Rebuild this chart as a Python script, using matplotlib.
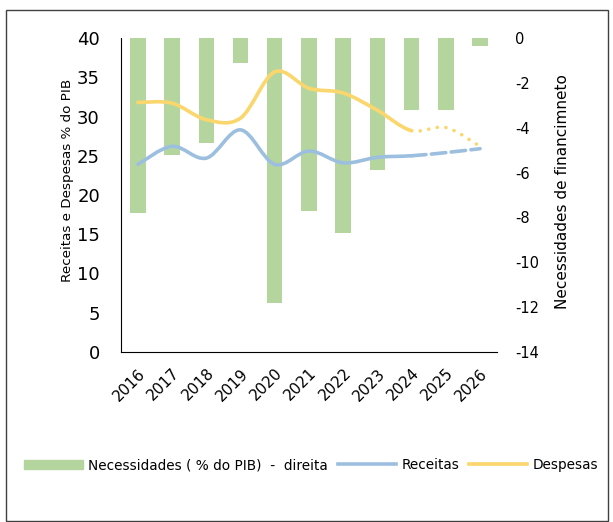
import matplotlib.pyplot as plt
import numpy as np
from matplotlib.path import Path
from matplotlib.patches import PathPatch, Patch, Rectangle
from matplotlib.lines import Line2D

plt.rcParams['axes.unicode_minus'] = False

anos = ['2016', '2017', '2018', '2019', '2020', '2021', '2022', '2023', '2024', '2025', '2026']
necessidades = [-7.8, -5.2, -4.7, -1.1, -11.8, -7.7, -8.7, -5.9, -3.2, -3.2, -0.35]
receitas = [23.9, 26.2, 24.7, 28.3, 23.9, 25.6, 24.1, 24.8, 25.0, 25.4, 25.9]
despesas = [31.8, 31.7, 29.6, 29.8, 35.7, 33.6, 33.0, 30.8, 28.2, 28.6, 26.2]
ultimo_real = 8  # 2024: a partir daqui sao previsoes

cor_barra = '#B4D69E'
cor_receitas = '#9DBFDF'
cor_despesas = '#FBD66C'


def curva_suave(x, y, i0, i1):
    # linha suavizada (bezier cubica) entre os pontos i0..i1
    pts = np.column_stack([x, y]).astype(float)
    n = len(pts)
    verts = [pts[i0]]
    codes = [Path.MOVETO]
    for i in range(i0, i1):
        p_ant = pts[max(i - 1, 0)]
        p_seg = pts[min(i + 2, n - 1)]
        c1 = pts[i] + (pts[i + 1] - p_ant) / 6
        c2 = pts[i + 1] - (p_seg - pts[i]) / 6
        verts += [c1, c2, pts[i + 1]]
        codes += [Path.CURVE4] * 3
    return Path(verts, codes)


fig = plt.figure(figsize=(6.13, 5.22), dpi=100)
ax = fig.add_axes([0.197, 0.326, 0.614, 0.601])
ax2 = ax.twinx()

x = np.arange(len(anos))

# barras no eixo da direita
ax.bar(x, necessidades, width=0.45, color=cor_barra, zorder=1)
ax.set_ylim(-14, 0)
ax.set_yticks(np.arange(-14, 1, 2))
ax.yaxis.tick_right()
ax.yaxis.set_label_position('right')
ax.set_ylabel('Necessidades de financimneto', fontsize=11)
ax.yaxis.set_label_coords(1.155, 0.51)
ax.tick_params(axis='y', length=0, pad=13, labelsize=10.5)

ax.set_xlim(-0.5, len(anos) - 0.5)
ax.set_xticks(x)
ax.set_xticklabels(anos, rotation=45, ha='right', va='top', rotation_mode='anchor')
ax.tick_params(axis='x', length=0, pad=10, labelsize=11)

# linhas no eixo da esquerda
ax2.set_ylim(0, 40)
ax2.set_yticks(np.arange(0, 41, 5))
ax2.yaxis.tick_left()
ax2.yaxis.set_label_position('left')
ax2.set_ylabel('Receitas e Despesas % do PIB', fontsize=9.7)
ax2.yaxis.set_label_coords(-0.123, 0.545)
ax2.tick_params(axis='y', length=0, pad=15, labelsize=13)

for serie, cor, estilo in [(receitas, cor_receitas, (0, (4, 1.5))),
                           (despesas, cor_despesas, (0, (0.01, 2.4)))]:
    real = PathPatch(curva_suave(x, serie, 0, ultimo_real), fill=False,
                     edgecolor=cor, lw=2.6, capstyle='round', zorder=3)
    prev = PathPatch(curva_suave(x, serie, ultimo_real, len(serie) - 1), fill=False,
                     edgecolor=cor, lw=2.6, linestyle=estilo, capstyle='round', zorder=3)
    ax2.add_patch(real)
    ax2.add_patch(prev)

for a in (ax, ax2):
    for lado in ('top', 'right', 'left', 'bottom'):
        a.spines[lado].set_visible(False)
ax2.spines['left'].set_visible(True)
ax2.spines['left'].set_color('black')
ax.spines['bottom'].set_visible(True)
ax.spines['bottom'].set_color('black')

handles = [Patch(color=cor_barra),
           Line2D([], [], color=cor_receitas, lw=2.6),
           Line2D([], [], color=cor_despesas, lw=2.6)]
labels = ['Necessidades ( % do PIB)  -  direita', 'Receitas', 'Despesas']
fig.legend(handles, labels, loc='center', bbox_to_anchor=(0.508, 0.109), ncol=3,
           frameon=False, fontsize=9.8, handlelength=4.3, handletextpad=0.4,
           columnspacing=0.7)

fig.patches.append(Rectangle((6 / 613, 0.002), 602 / 613, 1 - 10 / 522 - 0.002,
                             transform=fig.transFigure, fill=False,
                             edgecolor='#404040', lw=1))

fig.savefig('out.png', dpi=100)
